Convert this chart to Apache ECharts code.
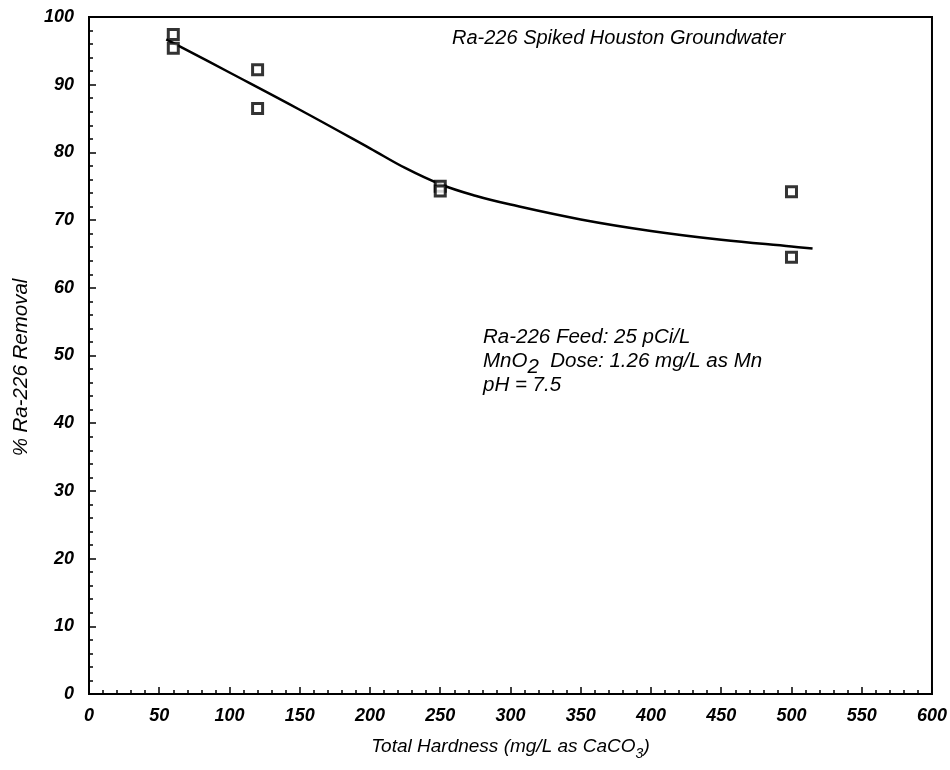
<!DOCTYPE html>
<html>
<head>
<meta charset="utf-8">
<script src="https://cdn.jsdelivr.net/npm/echarts@6/dist/echarts.min.js"></script>
<style>
  html, body { margin: 0; padding: 0; background: #fff; }
  #chart { width: 950px; height: 770px; }
</style>
</head>
<body>
<div id="chart"></div>
<script>
// measured points (total hardness, % removal)
const hardness = [60, 60, 120, 120, 250, 250, 500, 500]
const removal = [97.4, 95.4, 92.2, 86.5, 75.0, 74.3, 74.2, 64.5]

// fitted curve
const fitX = [55, 100, 150, 200, 225, 250, 275, 300, 350, 400, 450, 500, 515]
const fitY = [96.7, 91.8, 86.3, 80.6, 77.7, 75.3, 73.6, 72.3, 70.1, 68.4, 67.1, 66.1, 65.8]

const font = 'Liberation Sans, Arial, sans-serif'

const chart = echarts.init(document.getElementById('chart'))

const option = {
  backgroundColor: '#fff',
  animation: false,
  grid: {
    left: 89,
    right: 17,
    top: 17,
    bottom: 76,
    show: true,
    borderColor: '#000',
    borderWidth: 2
  },
  xAxis: {
    type: 'value',
    min: 0,
    max: 600,
    interval: 50,
    name: 'Total Hardness (mg/L as CaCO{sub|3})',
    nameLocation: 'middle',
    nameGap: 43,
    nameTextStyle: {
      color: '#000',
      fontFamily: font,
      fontStyle: 'italic',
      fontSize: 19,
      rich: {
        sub: { fontFamily: font, fontStyle: 'italic', fontSize: 14, verticalAlign: 'bottom', padding: [0, 0, -5, 0] }
      }
    },
    axisLine: { show: true, lineStyle: { color: '#000', width: 2 } },
    axisTick: { show: true, inside: true, length: 7, lineStyle: { color: '#000', width: 1.5 } },
    minorTick: { show: true, splitNumber: 5, length: 4, lineStyle: { color: '#000', width: 1.5 } },
    splitLine: { show: false },
    axisLabel: {
      color: '#000',
      fontFamily: font,
      fontStyle: 'italic',
      fontWeight: 'bold',
      fontSize: 18,
      margin: 13
    }
  },
  yAxis: {
    type: 'value',
    min: 0,
    max: 100,
    interval: 10,
    name: '% Ra-226 Removal',
    nameLocation: 'middle',
    nameGap: 58,
    nameTextStyle: {
      color: '#000',
      fontFamily: font,
      fontStyle: 'italic',
      fontSize: 20.5,
      padding: [0, 24, 0, 0]
    },
    axisLine: { show: true, lineStyle: { color: '#000', width: 2 } },
    axisTick: { show: true, inside: true, length: 7, lineStyle: { color: '#000', width: 1.5 } },
    minorTick: { show: true, splitNumber: 5, length: 4, lineStyle: { color: '#000', width: 1.5 } },
    splitLine: { show: false },
    axisLabel: {
      color: '#000',
      fontFamily: font,
      fontStyle: 'italic',
      fontWeight: 'bold',
      fontSize: 18,
      margin: 15
    }
  },
  series: [
    {
      name: 'fit',
      type: 'line',
      smooth: 0.4,
      showSymbol: false,
      lineStyle: { color: '#000', width: 2.5 },
      data: fitX.map((x, i) => [x, fitY[i]]),
      z: 2
    },
    {
      name: 'data',
      type: 'scatter',
      symbol: 'rect',
      symbolSize: 10,
      itemStyle: { color: '#fff', borderColor: '#000', borderWidth: 3 },
      data: hardness.map((x, i) => [x, removal[i]]),
      z: 3
    }
  ],
  graphic: [
    {
      type: 'text',
      left: 452,
      top: 28,
      style: {
        text: 'Ra-226 Spiked Houston Groundwater',
        fill: '#000',
        font: 'italic 20px ' + font
      }
    },
    {
      type: 'text',
      left: 483,
      top: 325,
      style: {
        text: 'Ra-226 Feed: 25 pCi/L\nMnO{sub|2}  Dose: 1.26 mg/L as Mn\npH = 7.5',
        fill: '#000',
        fontFamily: font,
        fontStyle: 'italic',
        fontSize: 20.5,
        lineHeight: 24,
        rich: {
          sub: { fontFamily: font, fontStyle: 'italic', fontSize: 20.5, lineHeight: 24, verticalAlign: 'bottom', padding: [0, 0, -4, 0] }
        }
      }
    }
  ]
}

chart.setOption(option)
</script>
</body>
</html>
